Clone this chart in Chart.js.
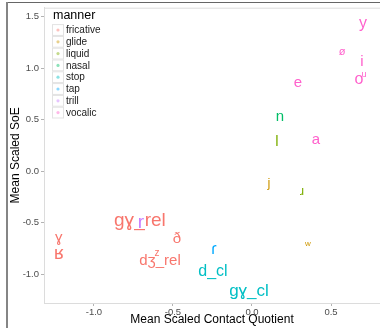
<!DOCTYPE html>
<html lang="en">
<head>
    <meta charset="UTF-8">
    <title>SoE vs Contact Quotient</title>
    <style>
        * { margin: 0; padding: 0; box-sizing: border-box; }
        body { background: #fff; overflow: hidden; }
        #wrap { position: relative; width: 380px; height: 328px; }
    </style>
    <script src="https://cdn.jsdelivr.net/npm/chart.js"></script>
</head>
<body>
    <div id="wrap"><canvas id="chart"></canvas></div>

    <script>
        // manner categories + ggplot default hues
        const manners = ['fricative', 'glide', 'liquid', 'nasal', 'stop', 'tap', 'trill', 'vocalic'];
        const mannerColors = ['#F8766D', '#CD9600', '#7CAE00', '#00BE67', '#00BFC4', '#00A9FF', '#C77CFF', '#FF61CC'];

        // segments (label text), position and text size
        const segLabels = ['gɣ_rel', 'ɣ', 'ʁ', 'ð', 'dʒ_rel', 'z',
                           'j', 'w',
                           'l', 'ɹ',
                           'n',
                           'd_cl', 'gɣ_cl',
                           'ɾ',
                           'r',
                           'y', 'ø', 'i', 'o', 'u', 'e', 'a'];
        const segManner = ['fricative', 'fricative', 'fricative', 'fricative', 'fricative', 'fricative',
                           'glide', 'glide',
                           'liquid', 'liquid',
                           'nasal',
                           'stop', 'stop',
                           'tap',
                           'trill',
                           'vocalic', 'vocalic', 'vocalic', 'vocalic', 'vocalic', 'vocalic', 'vocalic'];
        const contactQuotient = [-0.709, -1.222, -1.222, -0.475, -0.582, -0.601,
                                 0.108, 0.354,
                                 0.158, 0.316,
                                 0.177,
                                 -0.247, -0.019,
                                 -0.241,
                                 -0.703,
                                 0.703, 0.570, 0.696, 0.677, 0.709, 0.291, 0.405];
        const soe = [-0.479, -0.643, -0.800, -0.662, -0.875, -0.797,
                     -0.122, -0.701,
                     0.284, -0.199,
                     0.525,
                     -0.971, -1.164,
                     -0.759,
                     -0.505,
                     1.432, 1.162, 1.066, 0.892, 0.940, 0.853, 0.303];
        const textSize = [19, 15, 18, 15, 15, 10,
                          13, 8,
                          15, 13,
                          15,
                          16, 17,
                          16,
                          19,
                          16, 11, 15, 16, 9, 15, 15];

        const xTicks = [-1.0, -0.5, 0.0, 0.5];
        const yTicks = [-1.0, -0.5, 0.0, 0.5, 1.0, 1.5];

        const FONT = '"Liberation Sans", "DejaVu Sans", Arial, sans-serif';

        function colorOf(m) {
            return mannerColors[manners.indexOf(m)];
        }

        // frame + top panel line
        const framePlugin = {
            id: 'frame',
            beforeDraw(chart) {
                const ctx = chart.ctx;
                const a = chart.chartArea;
                ctx.save();
                ctx.fillStyle = '#fff';
                ctx.fillRect(0, 0, chart.width, chart.height);
                ctx.strokeStyle = '#dcdcdc';
                ctx.lineWidth = 1;
                ctx.beginPath();
                ctx.moveTo(a.left, a.top + 0.5);
                ctx.lineTo(a.right, a.top + 0.5);
                ctx.stroke();
                ctx.strokeStyle = '#666';
                ctx.beginPath();
                ctx.moveTo(6, 2.5);
                ctx.lineTo(chart.width, 2.5);
                ctx.stroke();
                ctx.strokeStyle = '#858585';
                ctx.lineWidth = 2;
                ctx.beginPath();
                ctx.moveTo(7, 2);
                ctx.lineTo(7, chart.height);
                ctx.stroke();
                ctx.restore();
            }
        };

        // draw each segment as its text at the scaled point
        const textPlugin = {
            id: 'segText',
            afterDatasetsDraw(chart) {
                const ctx = chart.ctx;
                const meta = chart.getDatasetMeta(0);
                ctx.save();
                ctx.textAlign = 'center';
                ctx.textBaseline = 'middle';
                meta.data.forEach((pt, i) => {
                    ctx.font = textSize[i] + 'px ' + FONT;
                    ctx.fillStyle = colorOf(segManner[i]);
                    ctx.fillText(segLabels[i], pt.x, pt.y);
                });
                ctx.restore();
            }
        };

        // ggplot-style legend inside the panel
        const legendPlugin = {
            id: 'mannerLegend',
            afterDraw(chart) {
                const ctx = chart.ctx;
                ctx.save();
                ctx.fillStyle = '#000';
                ctx.font = '12.5px ' + FONT;
                ctx.textAlign = 'left';
                ctx.textBaseline = 'middle';
                ctx.fillText('manner', 53, 16);
                const step = 11.8;
                const y0 = 30;
                manners.forEach((m, i) => {
                    const cy = y0 + i * step;
                    ctx.strokeStyle = '#e3e3e3';
                    ctx.lineWidth = 1;
                    ctx.strokeRect(52.5, cy - step / 2 + 0.5, 11, step - 1);
                    ctx.globalAlpha = 0.45;
                    ctx.fillStyle = mannerColors[i];
                    ctx.beginPath();
                    ctx.arc(58, cy, 1.6, 0, Math.PI * 2);
                    ctx.fill();
                    ctx.globalAlpha = 1;
                    ctx.fillStyle = '#1a1a1a';
                    ctx.font = '10px ' + FONT;
                    ctx.fillText(m, 66, cy + 0.5);
                });
                ctx.restore();
            }
        };

        const points = contactQuotient.map((x, i) => ({ x: x, y: soe[i] }));

        new Chart(document.getElementById('chart'), {
            type: 'scatter',
            data: {
                datasets: [{
                    data: points,
                    pointRadius: 0,
                    pointHoverRadius: 0
                }]
            },
            options: {
                responsive: true,
                maintainAspectRatio: false,
                animation: false,
                layout: { padding: { top: 6, right: 0, left: 0, bottom: 0 } },
                plugins: {
                    legend: { display: false },
                    tooltip: { enabled: false }
                },
                scales: {
                    x: {
                        type: 'linear',
                        min: -1.316,
                        max: 0.81,
                        afterFit(scale) { scale.height = 25; },
                        afterBuildTicks(scale) { scale.ticks = xTicks.map(v => ({ value: v })); },
                        grid: { drawOnChartArea: false, drawTicks: true, tickLength: 3, color: '#b3b3b3' },
                        border: { display: true, color: '#dcdcdc' },
                        ticks: {
                            padding: 1,
                            color: '#4d4d4d',
                            font: { size: 9.5, family: FONT },
                            maxRotation: 0,
                            callback: v => v.toFixed(1)
                        },
                        title: {
                            display: true,
                            text: 'Mean Scaled Contact Quotient',
                            color: '#000',
                            font: { size: 12, family: FONT },
                            padding: { top: 0, bottom: 1 }
                        }
                    },
                    y: {
                        type: 'linear',
                        min: -1.28,
                        max: 1.587,
                        afterFit(scale) { scale.width = 44; },
                        afterBuildTicks(scale) { scale.ticks = yTicks.map(v => ({ value: v })); },
                        grid: { drawOnChartArea: false, drawTicks: true, tickLength: 3, color: '#b3b3b3' },
                        border: { display: true, color: '#dcdcdc' },
                        ticks: {
                            padding: 2,
                            color: '#4d4d4d',
                            font: { size: 9.5, family: FONT },
                            callback: v => v.toFixed(1)
                        },
                        title: {
                            display: true,
                            text: 'Mean Scaled SoE',
                            color: '#000',
                            font: { size: 12, family: FONT },
                            padding: { top: 8, bottom: 0 }
                        }
                    }
                }
            },
            plugins: [framePlugin, textPlugin, legendPlugin]
        });
    </script>
</body>
</html>
